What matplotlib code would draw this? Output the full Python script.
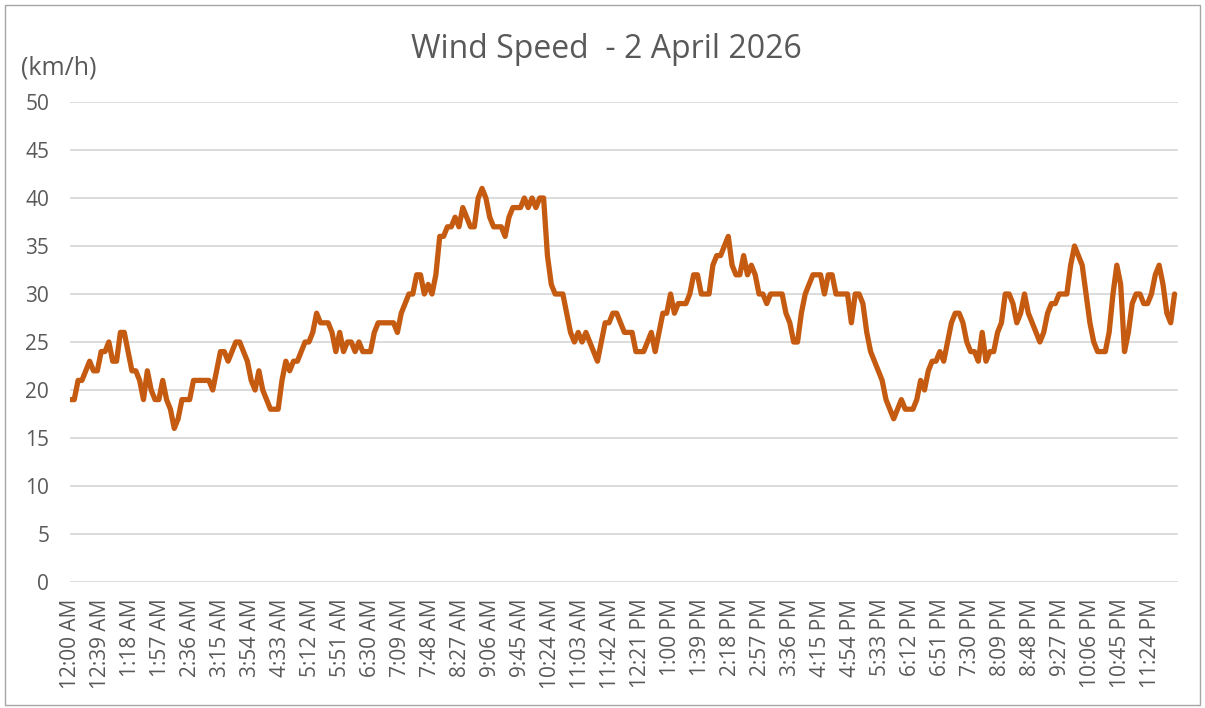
import matplotlib.pyplot as plt
import numpy as np
from matplotlib.patches import Rectangle

# wind speed (km/h), one reading every 5 minutes, one row per hour
hour_00 = [19, 19, 21, 21, 22, 23, 22, 22, 24, 24, 25, 23]
hour_01 = [23, 26, 26, 24, 22, 22, 21, 19, 22, 20, 19, 19]
hour_02 = [21, 19, 18, 16, 17, 19, 19, 19, 21, 21, 21, 21]
hour_03 = [21, 20, 22, 24, 24, 23, 24, 25, 25, 24, 23, 21]
hour_04 = [20, 22, 20, 19, 18, 18, 18, 21, 23, 22, 23, 23]
hour_05 = [24, 25, 25, 26, 28, 27, 27, 27, 26, 24, 26, 24]
hour_06 = [25, 25, 24, 25, 24, 24, 24, 26, 27, 27, 27, 27]
hour_07 = [27, 26, 28, 29, 30, 30, 32, 32, 30, 31, 30, 32]
hour_08 = [36, 36, 37, 37, 38, 37, 39, 38, 37, 37, 40, 41]
hour_09 = [40, 38, 37, 37, 37, 36, 38, 39, 39, 39, 40, 39]
hour_10 = [40, 39, 40, 40, 34, 31, 30, 30, 30, 28, 26, 25]
hour_11 = [26, 25, 26, 25, 24, 23, 25, 27, 27, 28, 28, 27]
hour_12 = [26, 26, 26, 24, 24, 24, 25, 26, 24, 26, 28, 28]
hour_13 = [30, 28, 29, 29, 29, 30, 32, 32, 30, 30, 30, 33]
hour_14 = [34, 34, 35, 36, 33, 32, 32, 34, 32, 33, 32, 30]
hour_15 = [30, 29, 30, 30, 30, 30, 28, 27, 25, 25, 28, 30]
hour_16 = [31, 32, 32, 32, 30, 32, 32, 30, 30, 30, 30, 27]
hour_17 = [30, 30, 29, 26, 24, 23, 22, 21, 19, 18, 17, 18]
hour_18 = [19, 18, 18, 18, 19, 21, 20, 22, 23, 23, 24, 23]
hour_19 = [25, 27, 28, 28, 27, 25, 24, 24, 23, 26, 23, 24]
hour_20 = [24, 26, 27, 30, 30, 29, 27, 28, 30, 28, 27, 26]
hour_21 = [25, 26, 28, 29, 29, 30, 30, 30, 33, 35, 34, 33]
hour_22 = [30, 27, 25, 24, 24, 24, 26, 30, 33, 31, 24, 26]
hour_23 = [29, 30, 30, 29, 29, 30, 32, 33, 31, 28, 27, 30]

speeds = (hour_00 + hour_01 + hour_02 + hour_03 + hour_04 + hour_05 +
          hour_06 + hour_07 + hour_08 + hour_09 + hour_10 + hour_11 +
          hour_12 + hour_13 + hour_14 + hour_15 + hour_16 + hour_17 +
          hour_18 + hour_19 + hour_20 + hour_21 + hour_22 + hour_23)
minutes = np.arange(len(speeds)) * 5

tick_labels = ["12:00 AM", "12:39 AM", "1:18 AM", "1:57 AM", "2:36 AM", "3:15 AM",
               "3:54 AM", "4:33 AM", "5:12 AM", "5:51 AM", "6:30 AM", "7:09 AM",
               "7:48 AM", "8:27 AM", "9:06 AM", "9:45 AM", "10:24 AM", "11:03 AM",
               "11:42 AM", "12:21 PM", "1:00 PM", "1:39 PM", "2:18 PM", "2:57 PM",
               "3:36 PM", "4:15 PM", "4:54 PM", "5:33 PM", "6:12 PM", "6:51 PM",
               "7:30 PM", "8:09 PM", "8:48 PM", "9:27 PM", "10:06 PM", "10:45 PM",
               "11:24 PM"]
tick_minutes = np.arange(len(tick_labels)) * 39

plt.rcParams['font.family'] = 'Open Sans'
text_color = "#595959"

fig = plt.figure(figsize=(12.05, 7.08), dpi=100)
ax = fig.add_axes([70 / 1205, 1 - 582 / 708, 1108 / 1205, 480 / 708])

ax.plot(minutes, speeds, color="#C55A11", linewidth=3.8,
        solid_joinstyle="round", solid_capstyle="round")

ax.set_xlim(-0.5, 1439.5)
ax.set_ylim(0, 50)
ax.set_yticks(range(0, 51, 5))
ax.set_xticks(tick_minutes)
ax.set_xticklabels(tick_labels, rotation=90, va="top", ha="center")
ax.tick_params(axis="both", length=0, labelsize=15, labelcolor=text_color)
ax.tick_params(axis="y", pad=15)
ax.tick_params(axis="x", pad=12)
ax.grid(axis="y", color="#D9D9D9", linewidth=1.3)
ax.set_axisbelow(True)
for s in ax.spines.values():
    s.set_visible(False)

fig.text(606 / 1205, 1 - 49 / 708, "Wind Speed  - 2 April 2026", ha="center",
         va="center", fontsize=23, color=text_color)
fig.text(21 / 1205, 1 - 68 / 708, "(km/h)", ha="left", va="center",
         fontsize=18, color=text_color)

fig.patches.append(Rectangle((5 / 1205, 3 / 708), 1195 / 1205, 700 / 708,
                             transform=fig.transFigure, fill=False,
                             edgecolor="#A6A6A6", linewidth=1))

fig.savefig("out.png", dpi=100)
